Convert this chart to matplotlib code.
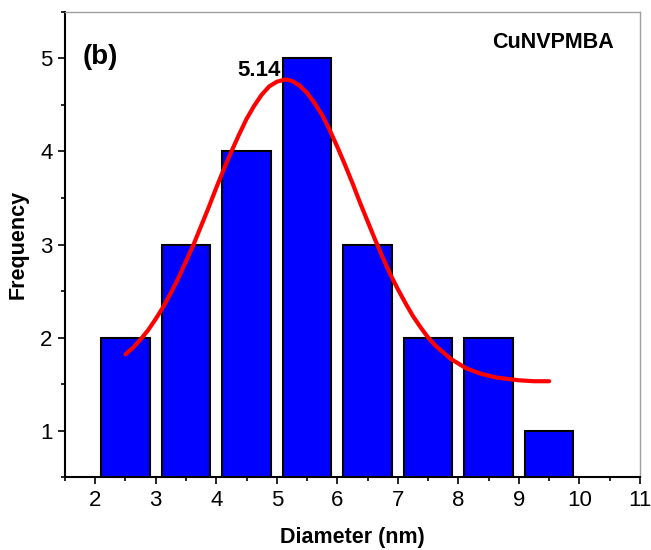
import matplotlib
matplotlib.use("Agg")
import matplotlib.pyplot as plt
from matplotlib.ticker import MultipleLocator

# histogram of particle diameters
diameters = [2.5, 3.5, 4.5, 5.5, 6.5, 7.5, 8.5, 9.5]
counts = [2, 3, 4, 5, 3, 2, 2, 1]

# gaussian fit curve
fit_x = [2.5, 2.625, 2.75, 2.875, 3.0, 3.125, 3.25, 3.375, 3.5, 3.625,
         3.75, 3.875, 4.0, 4.125, 4.25, 4.375, 4.5, 4.625, 4.75, 4.875,
         5.0, 5.14, 5.25, 5.375, 5.5, 5.625, 5.75, 5.875, 6.0, 6.125,
         6.25, 6.375, 6.5, 6.625, 6.75, 6.875, 7.0, 7.125, 7.25, 7.375,
         7.5, 7.625, 7.75, 7.875, 8.0, 8.125, 8.25, 8.375, 8.5, 8.625,
         8.75, 8.875, 9.0, 9.125, 9.25, 9.375, 9.5]
fit_y = [1.82, 1.89, 1.98, 2.08, 2.20, 2.33, 2.48, 2.64, 2.82, 3.00,
         3.20, 3.40, 3.61, 3.81, 4.00, 4.18, 4.35, 4.49, 4.61, 4.70,
         4.75, 4.775, 4.76, 4.71, 4.63, 4.52, 4.39, 4.23, 4.05, 3.86,
         3.66, 3.45, 3.25, 3.05, 2.86, 2.68, 2.52, 2.37, 2.23, 2.11,
         2.00, 1.91, 1.84, 1.77, 1.72, 1.67, 1.64, 1.61, 1.59, 1.57,
         1.56, 1.55, 1.54, 1.535, 1.53, 1.53, 1.53]

xticks = [2, 3, 4, 5, 6, 7, 8, 9, 10, 11]
yticks = [1, 2, 3, 4, 5]

plt.rcParams['font.family'] = ['Liberation Sans', 'DejaVu Sans']

fig = plt.figure(figsize=(6.51, 5.5), dpi=100)
ax = fig.add_axes([0.0998, 0.1327, 0.8832, 0.8455])

ax.bar(diameters, counts, width=0.8, color='#0000ff', edgecolor='black', linewidth=1.5, zorder=2)
ax.plot(fit_x, fit_y, color='#ff0000', linewidth=3, solid_capstyle='round',
        solid_joinstyle='round', zorder=3)

ax.set_xlim(1.5, 11)
ax.set_ylim(0.5, 5.5)
ax.set_xticks(xticks)
ax.set_yticks(yticks)
ax.xaxis.set_minor_locator(MultipleLocator(0.5))
ax.yaxis.set_minor_locator(MultipleLocator(0.5))
ax.tick_params(which='major', direction='out', length=5, width=1.2, labelsize=16, pad=4,
               top=False, right=False)
ax.tick_params(which='minor', direction='out', length=3, width=1.2, top=False, right=False)

for side in ['left', 'bottom']:
    ax.spines[side].set_linewidth(1.5)
    ax.spines[side].set_color('black')
for side in ['top', 'right']:
    ax.spines[side].set_linewidth(1)
    ax.spines[side].set_color('#a0a0a0')

ax.set_xlabel('Diameter (nm)', fontsize=15.5, fontweight='bold', labelpad=12)
ax.set_ylabel('Frequency', fontsize=15.5, fontweight='bold', labelpad=8)

ax.text(0.03, 0.903, '(b)', transform=ax.transAxes, fontsize=20, fontweight='bold', va='center', ha='left')
ax.text(0.849, 0.935, 'CuNVPMBA', transform=ax.transAxes, fontsize=15.5, fontweight='bold', va='center', ha='center')
ax.text(5.06, 4.87, '5.14', fontsize=16, fontweight='bold', va='center', ha='right', zorder=4)

fig.savefig('out.png', dpi=100)
